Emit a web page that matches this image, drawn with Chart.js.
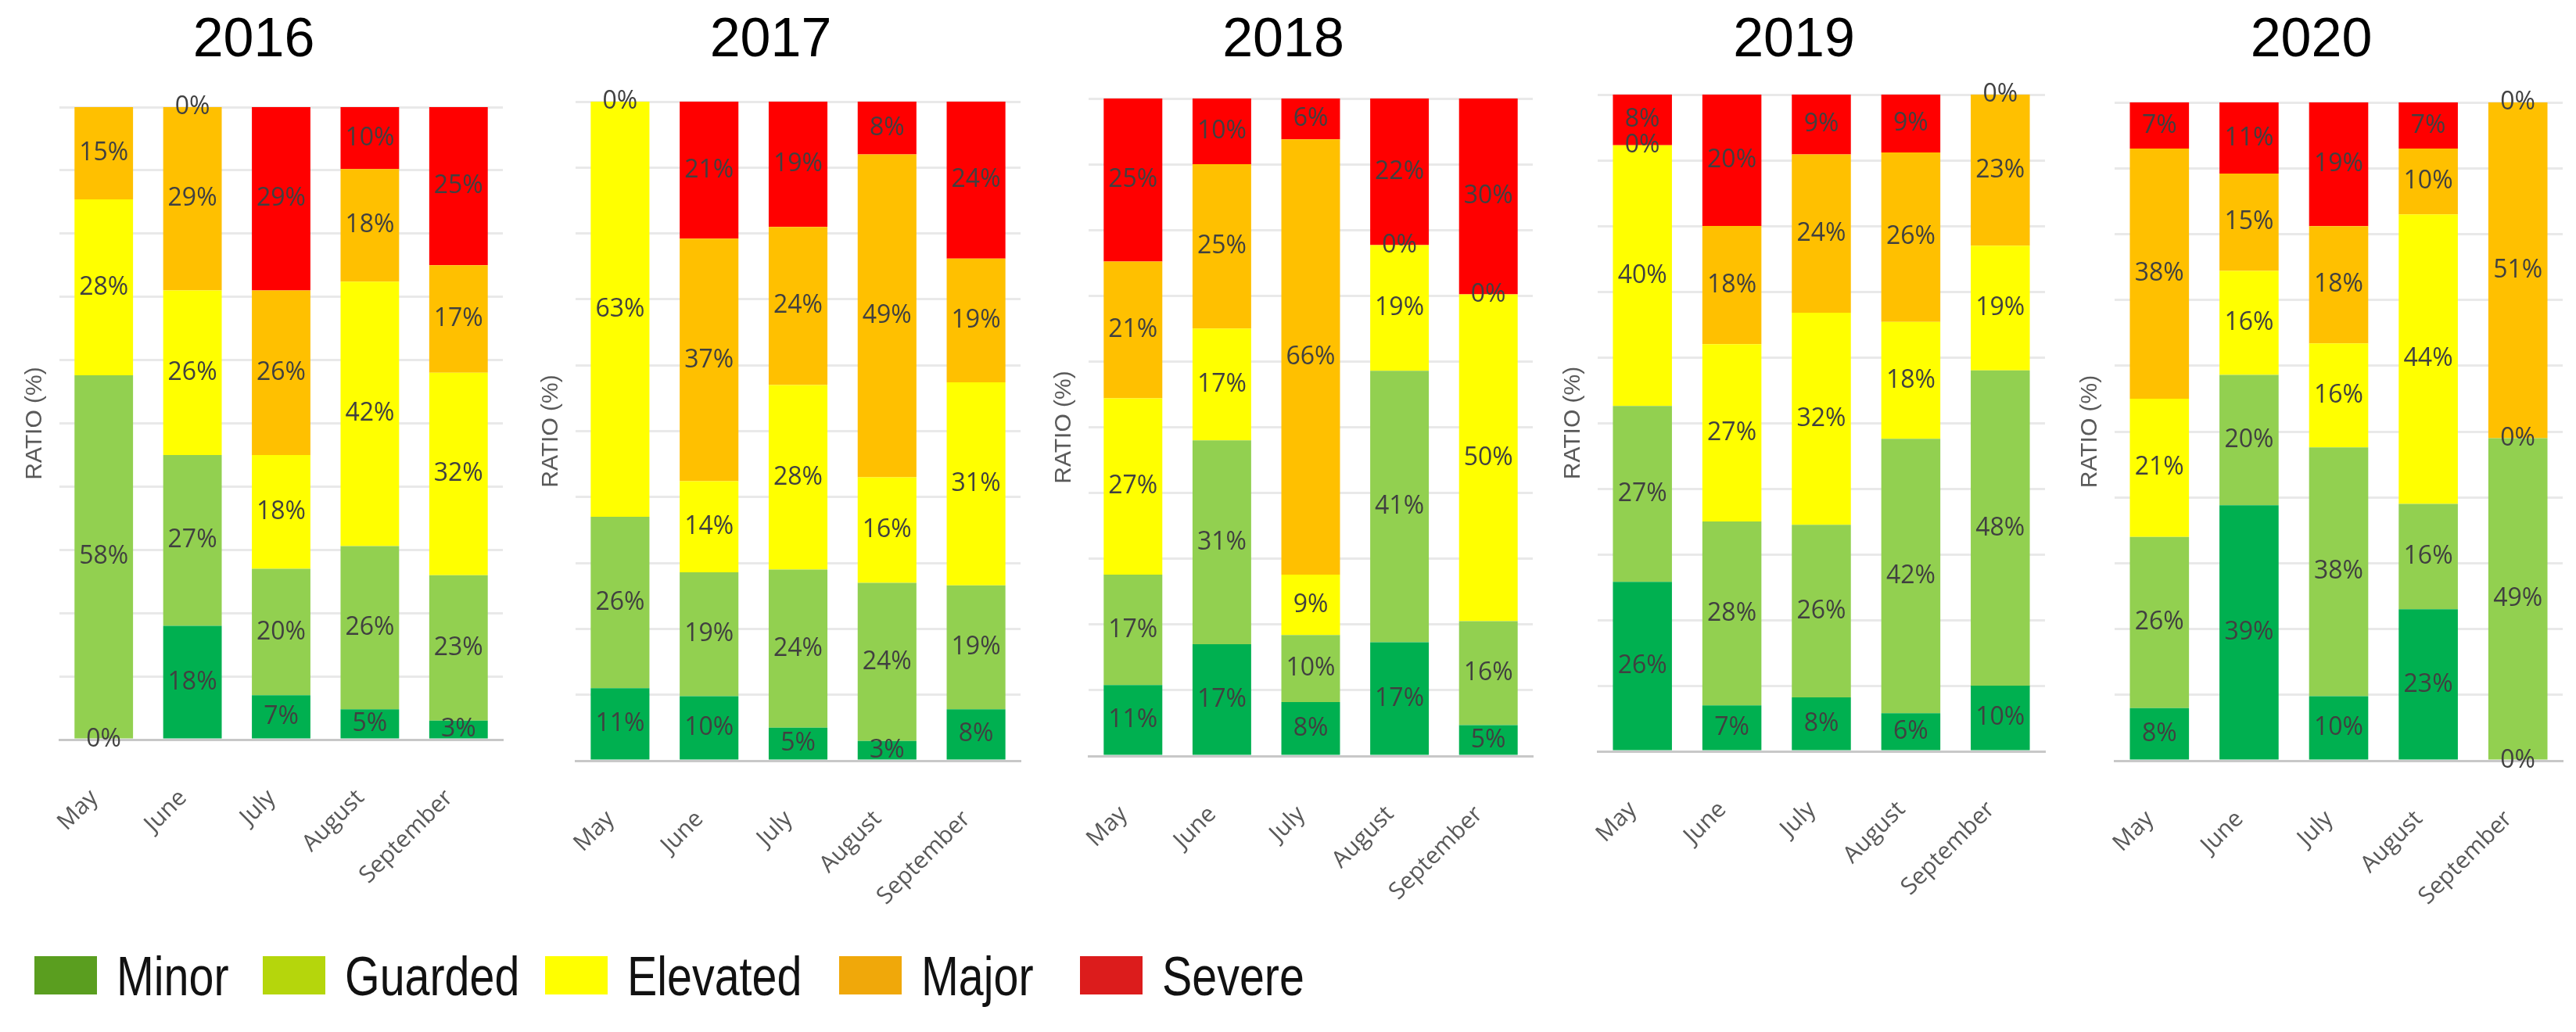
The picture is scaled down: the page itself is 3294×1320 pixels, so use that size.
<!DOCTYPE html>
<html>
<head>
<meta charset="utf-8">
<title>Alert level ratio by month, 2016-2020</title>
<script src="https://cdn.jsdelivr.net/npm/chart.js@4.4.1/dist/chart.umd.min.js"></script>
<style>
  body { margin: 0; width: 3294px; height: 1320px; background: #fff; position: relative; overflow: hidden; }
  canvas { position: absolute; top: 0; }
  .leg { position: absolute; top: 1214px; height: 70px; display: flex; align-items: flex-start;
         font-family: "Liberation Sans", Arial, sans-serif; font-size: 70px; line-height: 70px; color: #111; white-space: nowrap; }
  .leg .box { display: inline-block; width: 80px; height: 49px; margin-top: 9px; margin-right: 25px; }
  .leg .txt { display: inline-block; transform: scaleX(0.82); transform-origin: 0 50%; }
</style>
</head>
<body>
<div id="charts"></div>
<div id="legend"></div>
<script>
const months = ['May', 'June', 'July', 'August', 'September'];
const levels = ['Minor', 'Guarded', 'Elevated', 'Major', 'Severe'];
const years = ['2016', '2017', '2018', '2019', '2020'];

// rows: Minor, Guarded, Elevated, Major, Severe -- columns: May .. September
// (labels are rounded, so a few values carry a decimal to make the bar add up)
const ratio2016 = [
  [0, 18, 7, 4.8, 3],
  [57.6, 27, 20, 25.8, 23],
  [27.8, 26, 18, 41.8, 32],
  [14.6, 29, 26, 17.8, 17],
  [null, 0, 29, 9.8, 25]
];
const ratio2017 = [
  [11, 9.8, 5, 3, 7.8],
  [26, 18.8, 24, 24, 18.8],
  [63, 13.8, 28, 16, 30.8],
  [0, 36.8, 24, 49, 18.8],
  [null, 20.8, 19, 8, 23.8]
];
const ratio2018 = [
  [10.8, 17, 8.2, 17.3, 4.7],
  [16.8, 31, 10.2, 41.3, 15.8],
  [26.8, 17, 9.2, 19.1, 49.7],
  [20.8, 25, 66.2, 0, 0],
  [24.8, 10, 6.2, 22.3, 29.8]
];
const ratio2019 = [
  [25.8, 7, 8.2, 5.8, 10],
  [26.8, 28, 26.3, 41.8, 48],
  [39.7, 27, 32.3, 17.8, 19],
  [0, 18, 24.1, 25.8, 23],
  [7.7, 20, 9.1, 8.8, 0]
];
const ratio2020 = [
  [8, 38.8, 9.8, 23, 0],
  [26, 19.8, 37.8, 16, 49],
  [21, 15.8, 15.8, 44, 0],
  [38, 14.8, 17.8, 10, 51],
  [7, 10.8, 18.8, 7, 0]
];
const ratios = [ratio2016, ratio2017, ratio2018, ratio2019, ratio2020];

const barColors = ['#00B050', '#92D050', '#FFFF00', '#FFC000', '#FF0000'];
const legendColors = ['#5A9E1F', '#B5D60C', '#FFFF00', '#F0A80A', '#DC1C1C'];

// plot area of each panel on the page: left, right, top, bottom, title centre
const panels = [
  [76, 643, 137, 946, 355],
  [736, 1305, 130, 973, 1030],
  [1392, 1960, 126, 967, 1684],
  [2043, 2615, 121, 961, 2343],
  [2704, 3277, 131, 973, 2997]
];
const legendLeft = [44, 336, 697, 1073, 1381];

const CANVAS_H = 1180;
const YAXIS_W = 70;

// percent labels in the middle of each segment
const segmentLabels = {
  id: 'segmentLabels',
  afterDatasetsDraw(chart) {
    const ctx = chart.ctx;
    ctx.save();
    ctx.font = '32px "Open Sans"';
    ctx.fillStyle = '#404040';
    ctx.textAlign = 'center';
    ctx.textBaseline = 'middle';
    chart.data.datasets.forEach((ds, i) => {
      chart.getDatasetMeta(i).data.forEach((bar, j) => {
        const v = ds.data[j];
        if (v === null || v === undefined) return;
        const p = bar.getProps(['x', 'y', 'base'], true);
        ctx.fillText(Math.round(v) + '%', p.x, (p.y + p.base) / 2);
      });
    });
    ctx.restore();
  }
};

const holder = document.getElementById('charts');

years.forEach((year, k) => {
  const [left, right, top, bottom, titleX] = panels[k];
  const w = 2 * (titleX - left + YAXIS_W);
  const canvas = document.createElement('canvas');
  canvas.width = w;
  canvas.height = CANVAS_H;
  canvas.style.left = (left - YAXIS_W) + 'px';
  canvas.style.width = w + 'px';
  canvas.style.height = CANVAS_H + 'px';
  holder.appendChild(canvas);

  const data = ratios[k];
  new Chart(canvas.getContext('2d'), {
    type: 'bar',
    data: {
      labels: months,
      datasets: levels.map((name, i) => ({
        label: name,
        data: data[i],
        backgroundColor: barColors[i],
        borderWidth: 0,
        barPercentage: 0.66,
        categoryPercentage: 1
      }))
    },
    options: {
      responsive: false,
      animation: false,
      layout: { padding: { left: 0, right: w - YAXIS_W - (right - left), top: 0, bottom: 0 } },
      plugins: {
        legend: { display: false },
        tooltip: { enabled: false },
        title: {
          display: true,
          text: year,
          color: '#000',
          font: { family: 'Liberation Sans', size: 70, weight: 'normal', lineHeight: 1.2 },
          padding: { top: 11, bottom: top - 95 }
        }
      },
      scales: {
        x: {
          stacked: true,
          grid: { display: false, drawTicks: false },
          border: { display: true, color: '#c8c8c8', width: 3 },
          ticks: {
            autoSkip: false, minRotation: 45, maxRotation: 45, padding: 57, labelOffset: -12,
            color: '#595959', font: { family: 'Open Sans', size: 30 }
          },
          afterFit(scale) { scale.height = CANVAS_H - bottom; }
        },
        y: {
          stacked: true,
          min: 0, max: 100,
          ticks: { display: false, stepSize: 10 },
          grid: { color: '#e9e9e9', lineWidth: 3, drawTicks: false },
          border: { display: false },
          title: {
            display: true, text: 'RATIO (%)', color: '#595959',
            font: { family: 'Liberation Sans', size: 30 },
            padding: { top: 21, bottom: 0 }
          },
          afterFit(scale) { scale.width = YAXIS_W; }
        }
      }
    },
    plugins: [segmentLabels]
  });
});

// shared legend under the panels
const legend = document.getElementById('legend');
levels.forEach((name, i) => {
  const item = document.createElement('div');
  item.className = 'leg';
  item.style.left = legendLeft[i] + 'px';
  const box = document.createElement('span');
  box.className = 'box';
  box.style.background = legendColors[i];
  const txt = document.createElement('span');
  txt.className = 'txt';
  txt.textContent = name;
  item.appendChild(box);
  item.appendChild(txt);
  legend.appendChild(item);
});
</script>
</body>
</html>
